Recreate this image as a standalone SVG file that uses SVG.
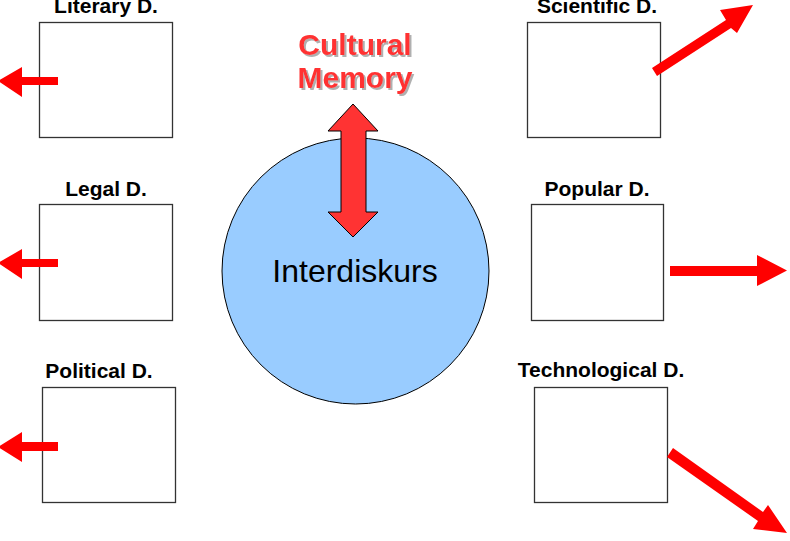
<svg xmlns="http://www.w3.org/2000/svg" width="790" height="541" viewBox="0 0 790 541">
<style>
.box{fill:#fff;stroke:#333;stroke-width:1.3}
.lbl{font-family:"Liberation Sans",Arial,sans-serif;font-weight:bold;font-size:21px;fill:#000;text-anchor:middle}
.arr{fill:#ff0000}
.cm{font-family:"Liberation Sans",Arial,sans-serif;font-weight:bold;font-size:30px;text-anchor:middle;fill:#ff3333}
</style>
<defs>
<filter id="shadow" x="-10%" y="-20%" width="130%" height="150%">
<feOffset in="SourceAlpha" dx="2" dy="2" result="off"/>
<feFlood flood-color="#b0b0b0"/>
<feComposite in2="off" operator="in" result="sh"/>
<feMerge><feMergeNode in="sh"/><feMergeNode in="SourceGraphic"/></feMerge>
</filter>
</defs>
<rect width="790" height="541" fill="#fff"/>
<g id="interdiskurs">
<ellipse cx="355.5" cy="271" rx="133.5" ry="133" fill="#99ccff" stroke="#000" stroke-width="1"/>
<text x="355" y="282" font-family="'Liberation Sans',Arial,sans-serif" font-size="32" text-anchor="middle" fill="#000">Interdiskurs</text>
</g>
<g id="cultural-memory" filter="url(#shadow)">
<text class="cm" x="355" y="55">Cultural</text>
<text class="cm" x="355" y="88">Memory</text>
</g>
<g id="literary">
<rect class="box" x="39.5" y="22.5" width="133" height="115"/>
<text class="lbl" x="106" y="13">Literary D.</text>
</g>
<g id="legal">
<rect class="box" x="39.5" y="204.5" width="133" height="116"/>
<text class="lbl" x="106" y="196">Legal D.</text>
</g>
<g id="political">
<rect class="box" x="42.5" y="387.5" width="133" height="115"/>
<text class="lbl" x="99" y="378">Political D.</text>
</g>
<g id="scientific">
<rect class="box" x="527.5" y="22.5" width="133" height="115"/>
<text class="lbl" x="597" y="13">Scientific D.</text>
</g>
<g id="popular">
<rect class="box" x="531.5" y="204.5" width="132" height="116"/>
<text class="lbl" x="597" y="196">Popular D.</text>
</g>
<g id="technological">
<rect class="box" x="534.5" y="387.5" width="133" height="115"/>
<text class="lbl" x="601" y="377">Technological D.</text>
</g>
<g id="connectors">
<path d="M353,104 L378,131 L366,131 L366,212 L378,212 L353,237 L328,212 L341,212 L341,131 L328,131 Z" fill="#ff3333" stroke="#000" stroke-width="1"/>
<path class="arr" d="M58,77 L22,77 L22,67 L-2,81 L22,97 L22,85 L58,85 Z"/>
<path class="arr" d="M58,259 L22,259 L22,249 L-2,263 L22,279 L22,267 L58,267 Z"/>
<path class="arr" d="M58,442 L22,442 L22,432 L-2,447 L22,462 L22,451 L58,451 Z"/>
<path class="arr" d="M670,266 L757,266 L757,255 L787,270.5 L757,286 L757,276 L670,276 Z"/>
<path class="arr" d="M652,68 L726,20 L720,10 L753,5 L737,33 L731,28 L657,76 Z"/>
<path class="arr" d="M673,448 L763,512 L768,505 L787,533 L753,529 L758,521 L667,457 Z"/>
</g>
</svg>
